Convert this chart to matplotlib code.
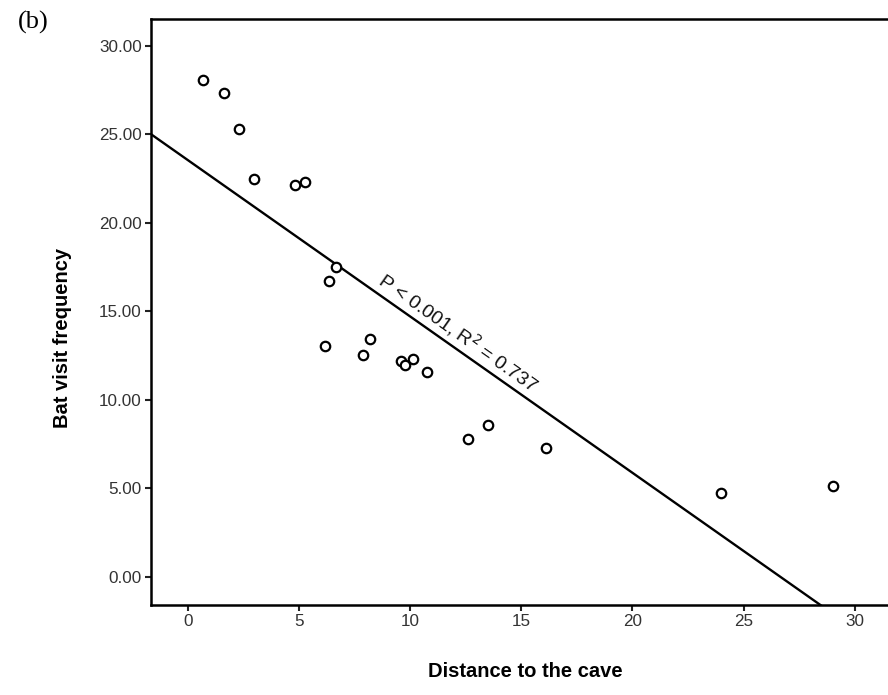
import matplotlib
matplotlib.use('Agg')
import matplotlib.pyplot as plt
import numpy as np

# distance to the cave vs bat visit frequency
distance = [0.70, 1.62, 2.32, 2.98, 4.80, 5.29, 6.67, 6.33, 6.17, 8.20,
            7.90, 9.59, 9.78, 10.12, 10.77, 12.60, 13.50, 16.11, 24.0, 29.01]
visits = [28.07, 27.30, 25.31, 22.44, 22.14, 22.32, 17.51, 16.69, 13.02, 13.42,
          12.54, 12.18, 11.93, 12.27, 11.56, 7.76, 8.59, 7.27, 4.70, 5.11]

# fitted line as drawn
intercept = 23.53
slope = -0.883
fit_label = 'P < 0.001, R$^2$ = 0.737'

xticks = [0, 5, 10, 15, 20, 25, 30]
yticks = [0, 5, 10, 15, 20, 25, 30]

plt.rcParams['font.family'] = ['Liberation Sans', 'DejaVu Sans']

fig = plt.figure(figsize=(8.88, 6.95), dpi=100)
ax = fig.add_axes([0.1697, 0.1295, 0.8303, 0.8432])

xlim = (-1.67, 31.5)
ylim = (-1.6, 31.5)

xs = np.array([xlim[0], 32])
ax.plot(xs, intercept + slope * xs, color='black', lw=1.7, zorder=2)
ax.plot(distance, visits, 'o', mfc='white', mec='black', ms=6.8, mew=1.6, zorder=3)

ax.set_xlim(*xlim)
ax.set_ylim(*ylim)
ax.set_xticks(xticks)
ax.set_yticks(yticks)
ax.set_yticklabels(['%.2f' % v for v in yticks])

ax.text(12.2, 13.8, fit_label, rotation=-35.2, rotation_mode='anchor',
        ha='center', va='center', fontsize=14, color='#111111')

for s in ['left', 'bottom', 'top']:
    ax.spines[s].set_linewidth(1.8)
    ax.spines[s].set_color('black')
ax.spines['right'].set_visible(False)

ax.tick_params(direction='out', length=4.5, width=1.5, color='#222222',
               labelsize=12.3, labelcolor='#333333', pad=2)

ax.set_xlabel('Distance to the cave', fontsize=14.5, fontweight='bold')
ax.set_ylabel('Bat visit frequency', fontsize=14.5, fontweight='bold')
ax.xaxis.set_label_coords(0.508, -0.114)
ax.yaxis.set_label_coords(-0.120, 0.455)
ax.xaxis.label.set_va('center')
ax.yaxis.label.set_va('center')

fig.text(18 / 888, 1 - 22 / 695, '(b)', family='Liberation Serif', fontsize=19,
         ha='left', va='center')

plt.savefig('out.png', dpi=100)
